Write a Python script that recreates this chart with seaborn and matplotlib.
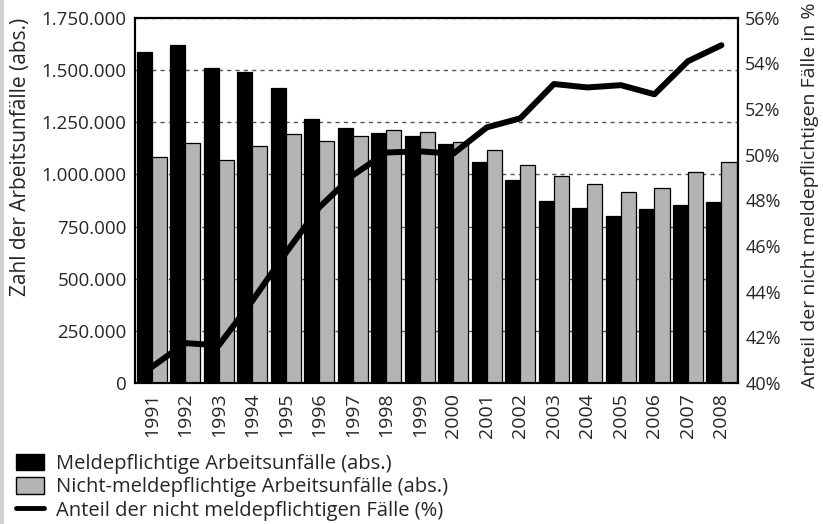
import matplotlib
matplotlib.use("Agg")
import matplotlib.pyplot as plt
import numpy as np
import pandas as pd
import seaborn as sns
from matplotlib.lines import Line2D
from matplotlib.patches import Patch
from matplotlib.ticker import FuncFormatter, MultipleLocator

# Data
years = [str(y) for y in range(1991, 2009)]
meldepflichtig = [1587000, 1622000, 1510000, 1489000, 1414000, 1266000, 1221000, 1197000, 1184000,
                  1143000, 1060000, 973000, 871000, 840000, 801000, 834000, 852000, 866000]
nicht_meldepflichtig = [1082000, 1152000, 1069000, 1136000, 1194000, 1158000, 1186000, 1211000, 1203000,
                        1154000, 1117000, 1045000, 994000, 954000, 914000, 935000, 1013000, 1061000]
anteil = [40.7, 41.75, 41.65, 43.6, 45.7, 47.7, 49.1, 50.1, 50.15,
          50.05, 51.2, 51.6, 53.1, 52.95, 53.05, 52.65, 54.1, 54.8]

lab_m = "Meldepflichtige Arbeitsunfälle (abs.)"
lab_n = "Nicht-meldepflichtige Arbeitsunfälle (abs.)"
lab_a = "Anteil der nicht meldepflichtigen Fälle (%)"

df = pd.DataFrame({
    "Jahr": years * 2,
    "Serie": [lab_m] * len(years) + [lab_n] * len(years),
    "Wert": meldepflichtig + nicht_meldepflichtig,
})

sns.set_style("white")
plt.rcParams["font.family"] = ["Open Sans", "DejaVu Sans"]
plt.rcParams["font.size"] = 13

fig = plt.figure(figsize=(8.23, 5.24), dpi=100)
ax = fig.add_axes([0.164, 0.269, 0.733, 0.697])

gray = "#b4b4b4"
sns.barplot(data=df, x="Jahr", y="Wert", hue="Serie", palette=["black", gray],
            width=0.9, edgecolor="black", linewidth=0.9, ax=ax, legend=False)
ax.set_xlim(-0.5, len(years) - 0.5)
ax.set_ylim(0, 1750000)
ax.yaxis.set_major_locator(MultipleLocator(250000))
ax.yaxis.set_major_formatter(FuncFormatter(lambda v, p: f"{int(v):,}".replace(",", ".")))
ax.set_axisbelow(True)
ax.grid(axis="y", linestyle=(0, (3, 3)), color="#555555", linewidth=1)
ax.set_xlabel("")
ax.set_ylabel("Zahl der Arbeitsunfälle (abs.)", fontsize=15, loc="top")
ax.yaxis.set_label_coords(-0.172, 1.0)
ax.tick_params(axis="y", length=0, pad=6, labelsize=13.5)
ax.tick_params(axis="x", length=0, pad=7, labelsize=14, rotation=90)
for s in ax.spines.values():
    s.set_color("black")
    s.set_linewidth(1.5)

ax2 = ax.twinx()
sns.lineplot(x=np.arange(len(years)), y=anteil, color="black", linewidth=4.3,
             ax=ax2, solid_capstyle="round", solid_joinstyle="round")
ax2.set_ylim(40, 56)
ax2.yaxis.set_major_locator(MultipleLocator(2))
ax2.yaxis.set_major_formatter(FuncFormatter(lambda v, p: f"{int(v)}%"))
ax2.tick_params(axis="y", length=0, pad=5, labelsize=13)
ax2.set_ylabel("Anteil der nicht meldepflichtigen Fälle in %", fontsize=14)
ax2.yaxis.set_label_coords(1.104, 0.515)
for s in ax2.spines.values():
    s.set_color("black")
    s.set_linewidth(1.5)

handles = [
    Patch(facecolor="black", edgecolor="black", label=lab_m),
    Patch(facecolor=gray, edgecolor="black", label=lab_n),
    Line2D([0], [0], color="black", linewidth=3.5, label=lab_a),
]
fig.legend(handles=handles, loc="upper left", bbox_to_anchor=(0.019, 0.134),
           frameon=False, fontsize=14.5, handlelength=1.4, handleheight=0.9,
           labelspacing=0.15, handletextpad=0.6, borderaxespad=0, borderpad=0)

fig.add_artist(Line2D([0.003, 0.003], [0, 1], color="#d2d2d2", linewidth=3,
                      transform=fig.transFigure))

fig.savefig("out.png", dpi=100)
